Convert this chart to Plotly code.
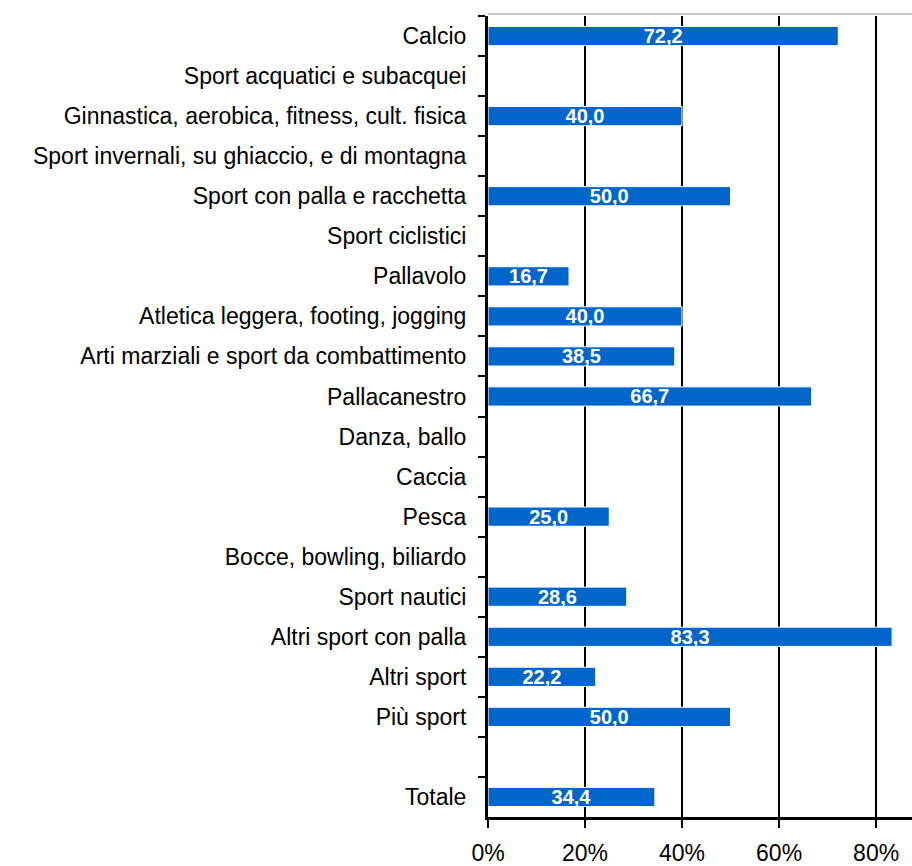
import plotly.graph_objects as go

# Categories top to bottom (" " is the spacer row before the total)
categories = [
    "Calcio",
    "Sport acquatici e subacquei",
    "Ginnastica, aerobica, fitness, cult. fisica",
    "Sport invernali, su ghiaccio, e di montagna",
    "Sport con palla e racchetta",
    "Sport ciclistici",
    "Pallavolo",
    "Atletica leggera, footing, jogging",
    "Arti marziali e sport da combattimento",
    "Pallacanestro",
    "Danza, ballo",
    "Caccia",
    "Pesca",
    "Bocce, bowling, biliardo",
    "Sport nautici",
    "Altri sport con palla",
    "Altri sport",
    "Più sport",
    " ",
    "Totale",
]
values = [72.2, None, 40.0, None, 50.0, None, 16.7, 40.0, 38.5, 66.7,
          None, None, 25.0, None, 28.6, 83.3, 22.2, 50.0, None, 34.4]
labels = [f"{v:.1f}".replace(".", ",") if v is not None else "" for v in values]

x_ticks = [0, 20, 40, 60, 80]
x_tick_text = ["0%", "20%", "40%", "60%", "80%"]

fig = go.Figure(
    go.Bar(
        y=categories,
        x=values,
        orientation="h",
        marker=dict(color="#0066CC", line=dict(color="white", width=1)),
        text=labels,
        textposition="inside",
        insidetextanchor="middle",
        constraintext="none",
        textfont=dict(family="Liberation Sans, Arial, sans-serif", size=20,
                      color="white", weight="bold"),
        hoverinfo="skip",
    )
)

fig.update_layout(
    width=912,
    height=866,
    margin=dict(l=488, r=0, t=16, b=49),
    paper_bgcolor="white",
    plot_bgcolor="white",
    bargap=0.52,
    showlegend=False,
    font=dict(family="Liberation Sans, Arial, sans-serif", color="black"),
    xaxis=dict(
        range=[0, 87.4],
        tickvals=x_ticks,
        ticktext=x_tick_text,
        showgrid=True,
        gridcolor="black",
        gridwidth=1.5,
        zeroline=False,
        showline=True,
        linecolor="black",
        linewidth=3,
        ticks="outside",
        ticklen=8,
        tickwidth=1.5,
        tickcolor="black",
        tickfont=dict(size=23),
        ticklabelstandoff=5,
        automargin=False,
    ),
    yaxis=dict(
        type="category",
        categoryorder="array",
        categoryarray=categories,
        autorange="reversed",
        showgrid=False,
        zeroline=False,
        showline=True,
        linecolor="black",
        linewidth=3,
        ticks="outside",
        tickson="boundaries",
        ticklen=7,
        tickwidth=1.5,
        tickcolor="black",
        tickfont=dict(size=23),
        ticklabelstandoff=14,
        automargin=False,
    ),
    shapes=[
        dict(type="line", xref="paper", yref="paper", x0=0, x1=1,
             y0=1.0025, y1=1.0025,
             line=dict(color="#c8c8c8", width=2), layer="below"),
    ],
)

fig.write_html("out.html")
